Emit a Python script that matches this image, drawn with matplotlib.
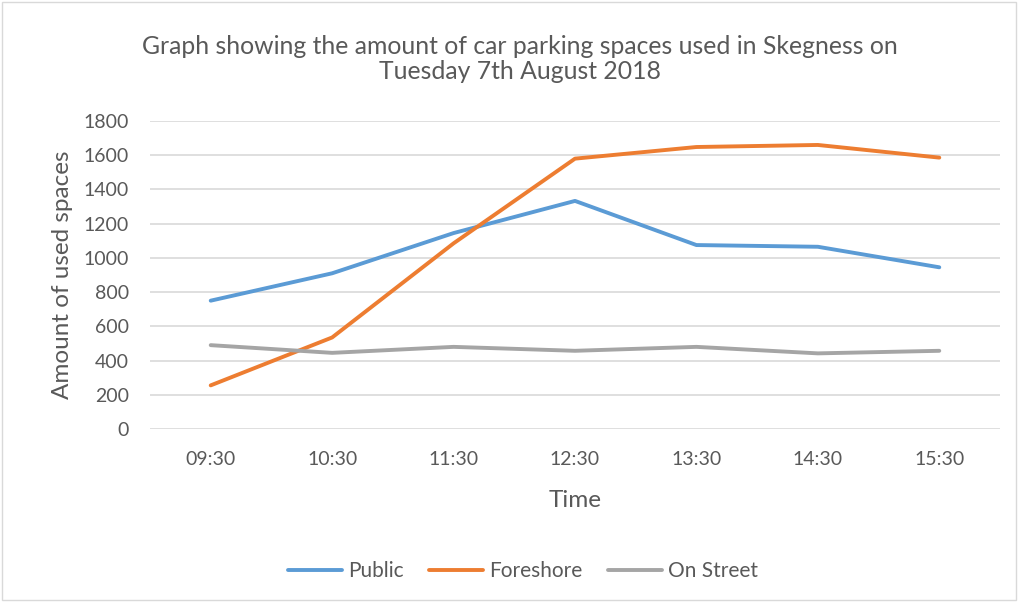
import matplotlib.pyplot as plt
from matplotlib.patches import Rectangle

# Data
times = ["09:30", "10:30", "11:30", "12:30", "13:30", "14:30", "15:30"]
public = [750, 910, 1145, 1333, 1075, 1065, 945]
foreshore = [255, 535, 1085, 1580, 1648, 1660, 1586]
on_street = [490, 445, 480, 457, 480, 442, 457]

text_color = "#595959"
plt.rcParams["font.family"] = ["Lato", "DejaVu Sans"]

fig = plt.figure(figsize=(10.18, 6.02), dpi=100)
ax = fig.add_axes([150 / 1018, 1 - 429 / 602, 850 / 1018, 308 / 602])

x = range(len(times))
style = dict(lw=2.8, solid_capstyle="round", solid_joinstyle="round")
ax.plot(x, public, color="#5B9BD5", label="Public", **style)
ax.plot(x, foreshore, color="#ED7D31", label="Foreshore", **style)
ax.plot(x, on_street, color="#A5A5A5", label="On Street", **style)

ax.set_xlim(-0.5, len(times) - 0.5)
ax.set_ylim(0, 1800)
ax.set_yticks(range(0, 1801, 200))
ax.set_xticks(list(x))
ax.set_xticklabels(times)
ax.grid(axis="y", color="#D9D9D9", lw=1.2)
ax.set_axisbelow(True)
for s in ax.spines.values():
    s.set_visible(False)
ax.tick_params(length=0, labelsize=14, colors=text_color)
ax.tick_params(axis="x", pad=16)
ax.tick_params(axis="y", pad=15)

ax.set_xlabel("Time", fontsize=17.5, color=text_color, labelpad=16)
ax.set_ylabel("Amount of used spaces", fontsize=17.5, color=text_color, labelpad=8)

fig.text(520 / 1018, 1 - 59 / 602,
         "Graph showing the amount of car parking spaces used in Skegness on\nTuesday 7th August 2018",
         ha="center", va="center", fontsize=17.8, color=text_color, linespacing=1.15)

fig.legend(loc="center", bbox_to_anchor=(523 / 1018, 1 - 571 / 602), ncol=3, frameon=False,
           fontsize=15, handlelength=2.6, columnspacing=1.2, handletextpad=0.3,
           labelcolor=text_color)

fig.patches.append(Rectangle((0.002, 0.003), 0.996, 0.994, transform=fig.transFigure,
                             fill=False, edgecolor="#D9D9D9", lw=1))

fig.savefig("out.png", dpi=100)
